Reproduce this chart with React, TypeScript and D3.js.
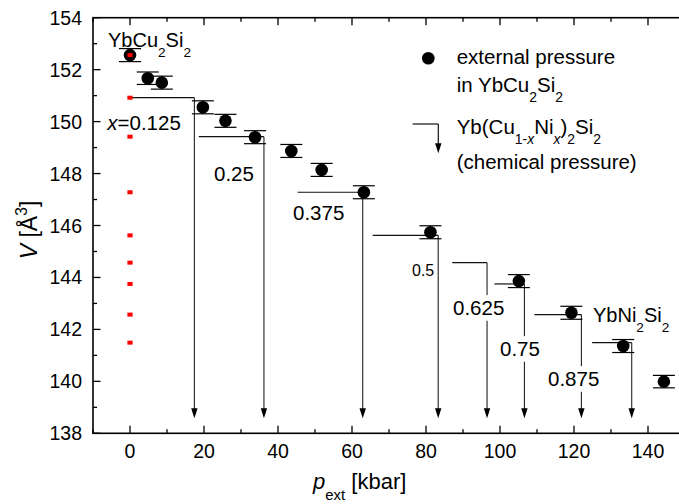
import React from "react";
import * as d3 from "d3";

// External pressure data (YbCu2Si2)
const pressure = [0, 4.8, 8.6, 19.7, 25.8, 33.8, 43.6, 51.8, 63.2, 81.2, 105.1, 119.3, 133.3, 144.3];
const volume = [152.56, 151.67, 151.5, 150.55, 150.03, 149.4, 148.87, 148.14, 147.28, 145.74, 143.86, 142.64, 141.36, 139.99];
const volumeErr = [0.25, 0.24, 0.25, 0.25, 0.25, 0.25, 0.25, 0.25, 0.25, 0.25, 0.25, 0.25, 0.25, 0.24];

// Chemical pressure Yb(Cu1-xNix)2Si2
const xNi = [0, 0.125, 0.25, 0.375, 0.5, 0.625, 0.75, 0.875, 1];
const chemVolume = [152.56, 150.92, 149.42, 147.28, 145.62, 144.57, 143.75, 142.57, 141.49];
const chemLineStart = [0, 0, 18.6, 45.3, 65.6, 87.1, 98.5, 109.3, 124.9];
const chemPressure = [0, 17.4, 36.2, 62.9, 83.3, 96.5, 106.6, 122.0, 135.6];
const xLabels = ["0.125", "0.25", "0.375", "0.5", "0.625", "0.75", "0.875"];

const xTicks = [0, 20, 40, 60, 80, 100, 120, 140];
const xMinor = [-10, 10, 30, 50, 70, 90, 110, 130, 150];
const yTicks = [138, 140, 142, 144, 146, 148, 150, 152, 154];
const yMinor = [139, 141, 143, 145, 147, 149, 151, 153];

const FONT = "'Liberation Sans', Arial, Helvetica, sans-serif";

type Seg = { t: string; s?: "sub" | "sup"; i?: boolean };

function Rich(props: { x: number; y: number; segs: Seg[]; size: number; anchor?: string; transform?: string; bg?: boolean }) {
  const { x, y, segs, size, anchor, transform } = props;
  let cur = 0;
  return (
    <text x={x} y={y} fontSize={size} textAnchor={anchor || "start"} fontFamily={FONT} fill="#000" transform={transform}>
      {segs.map((sg, k) => {
        const target = sg.s === "sub" ? size * 0.5 : sg.s === "sup" ? -size * 0.42 : 0;
        const dy = target - cur;
        cur = target;
        return (
          <tspan key={k} dy={dy} fontSize={sg.s ? size * 0.68 : size} fontStyle={sg.i ? "italic" : "normal"}>
            {sg.t}
          </tspan>
        );
      })}
    </text>
  );
}

export default function App() {
  const W = 679, H = 504;
  const left = 93, top = 17.7, bottom = 433.3;
  const x = d3.scaleLinear().domain([-10, 150]).range([left, left + 160 * 3.7]);
  const y = d3.scaleLinear().domain([138, 154]).range([bottom, top]);
  const right = x(150);
  const arrowTip = 418.3;

  const arrowHead = (cx: number, tip: number) =>
    d3.line()([[cx - 3.2, tip - 10], [cx + 3.2, tip - 10], [cx, tip]]) + "Z";

  const labelPos = [
    { x: 107.3, y: 129.5, size: 20.5 },
    { x: 214, y: 180.6, size: 20.5 },
    { x: 293, y: 219.6, size: 20.5 },
    { x: 412, y: 275.8, size: 16 },
    { x: 453, y: 314.6, size: 20.5, bg: true },
    { x: 500, y: 355.6, size: 20.5, bg: true },
    { x: 548, y: 385.6, size: 20.5, bg: true },
  ];

  return (
    <svg width={W} height={H} style={{ position: "absolute", left: 0, top: 0, background: "#fff" }}>
      <rect x={0} y={0} width={W} height={H} fill="#fff" />

      {/* chemical pressure lines */}
      {xNi.map((xv, i) => {
        if (i === 0) return null;
        const yy = y(chemVolume[i]);
        const x0 = x(chemLineStart[i]);
        const x1 = x(chemPressure[i]);
        return (
          <g key={"c" + i}>
            <line x1={x0} x2={x1} y1={yy} y2={yy} stroke="#111" strokeWidth={1.2} />
            <line x1={x1} x2={x1} y1={yy} y2={arrowTip - 8} stroke="#222" strokeWidth={1.1} />
            <path d={arrowHead(x1, arrowTip)} fill="#000" />
          </g>
        );
      })}

      {/* labels for x */}
      {xLabels.map((lab, i) => {
        const p = labelPos[i];
        const w = lab.length * p.size * 0.5;
        return (
          <g key={"l" + i}>
            {p.bg && <rect x={p.x - 2} y={p.y - p.size * 0.95} width={w + 4} height={p.size * 1.25} fill="#fff" />}
            {i === 0 ? (
              <Rich x={p.x} y={p.y} size={p.size} segs={[{ t: "x", i: true }, { t: "=" + lab }]} />
            ) : (
              <text x={p.x} y={p.y} fontSize={p.size} fontFamily={FONT}>{lab}</text>
            )}
          </g>
        );
      })}

      {/* error bars and points */}
      {pressure.map((p, i) => {
        const cx = x(p);
        const y1 = y(volume[i] + volumeErr[i]);
        const y2 = y(volume[i] - volumeErr[i]);
        return (
          <g key={"p" + i}>
            <line x1={cx} x2={cx} y1={y1} y2={y2} stroke="#000" strokeWidth={1.2} />
            <line x1={cx - 11} x2={cx + 11} y1={y1} y2={y1} stroke="#000" strokeWidth={1.2} />
            <line x1={cx - 11} x2={cx + 11} y1={y2} y2={y2} stroke="#000" strokeWidth={1.2} />
            <circle cx={cx} cy={y(volume[i])} r={6.3} fill="#000" />
          </g>
        );
      })}

      {/* red squares at p = 0 */}
      {chemVolume.map((v, i) => (
        <rect key={"r" + i} x={x(0) - 2.6} y={y(v) - 2} width={5.2} height={4} fill="#ff0000" />
      ))}

      {/* frame */}
      <rect x={left} y={top} width={right - left} height={bottom - top} fill="none" stroke="#000" strokeWidth={1.6} />

      {/* x ticks */}
      {xTicks.map((t) => (
        <g key={"xt" + t}>
          <line x1={x(t)} x2={x(t)} y1={bottom} y2={bottom - 7.5} stroke="#000" strokeWidth={1.3} />
          <line x1={x(t)} x2={x(t)} y1={top} y2={top + 7.5} stroke="#000" strokeWidth={1.3} />
          <text x={x(t)} y={457.5} fontSize={19.5} textAnchor="middle" fontFamily={FONT}>{t}</text>
        </g>
      ))}
      {xMinor.map((t) => (
        <g key={"xm" + t}>
          <line x1={x(t)} x2={x(t)} y1={bottom} y2={bottom - 4} stroke="#000" strokeWidth={1.3} />
          <line x1={x(t)} x2={x(t)} y1={top} y2={top + 4} stroke="#000" strokeWidth={1.3} />
        </g>
      ))}

      {/* y ticks */}
      {yTicks.map((t) => (
        <g key={"yt" + t}>
          <line x1={left} x2={left + 7.5} y1={y(t)} y2={y(t)} stroke="#000" strokeWidth={1.3} />
          <text x={82} y={y(t) + 7} fontSize={19.5} textAnchor="end" fontFamily={FONT}>{t}</text>
        </g>
      ))}
      {yMinor.map((t) => (
        <line key={"ym" + t} x1={left} x2={left + 4} y1={y(t)} y2={y(t)} stroke="#000" strokeWidth={1.3} />
      ))}

      {/* axis titles */}
      <Rich x={313} y={489} size={22} segs={[{ t: "p", i: true }, { t: "ext", s: "sub" }, { t: " [kbar]" }]} />
      <Rich x={0} y={0} size={23} anchor="middle" transform="translate(37,230) rotate(-90)"
        segs={[{ t: "V", i: true }, { t: " [Å" }, { t: "3", s: "sup" }, { t: "]" }]} />

      {/* compound labels */}
      <Rich x={108} y={46.7} size={20} segs={[{ t: "YbCu" }, { t: "2", s: "sub" }, { t: "Si" }, { t: "2", s: "sub" }]} />
      <Rich x={593} y={321.7} size={20} segs={[{ t: "YbNi" }, { t: "2", s: "sub" }, { t: "Si" }, { t: "2", s: "sub" }]} />

      {/* legend */}
      <circle cx={428.3} cy={58.3} r={6.3} fill="#000" />
      <text x={456.7} y={64} fontSize={20.5} fontFamily={FONT}>external pressure</text>
      <Rich x={456.7} y={92} size={20.5} segs={[{ t: "in YbCu" }, { t: "2", s: "sub" }, { t: "Si" }, { t: "2", s: "sub" }]} />
      <line x1={412.7} x2={438.3} y1={124} y2={124} stroke="#111" strokeWidth={1.2} />
      <line x1={438.3} x2={438.3} y1={124} y2={146} stroke="#111" strokeWidth={1.2} />
      <path d={arrowHead(438.3, 153.3)} fill="#000" />
      <Rich x={456.7} y={134} size={20.5}
        segs={[{ t: "Yb(Cu" }, { t: "1-", s: "sub" }, { t: "x", s: "sub", i: true }, { t: "Ni" }, { t: "x", s: "sub", i: true }, { t: ")" }, { t: "2", s: "sub" }, { t: "Si" }, { t: "2", s: "sub" }]} />
      <text x={456.7} y={169.3} fontSize={20.5} fontFamily={FONT}>(chemical pressure)</text>
    </svg>
  );
}
